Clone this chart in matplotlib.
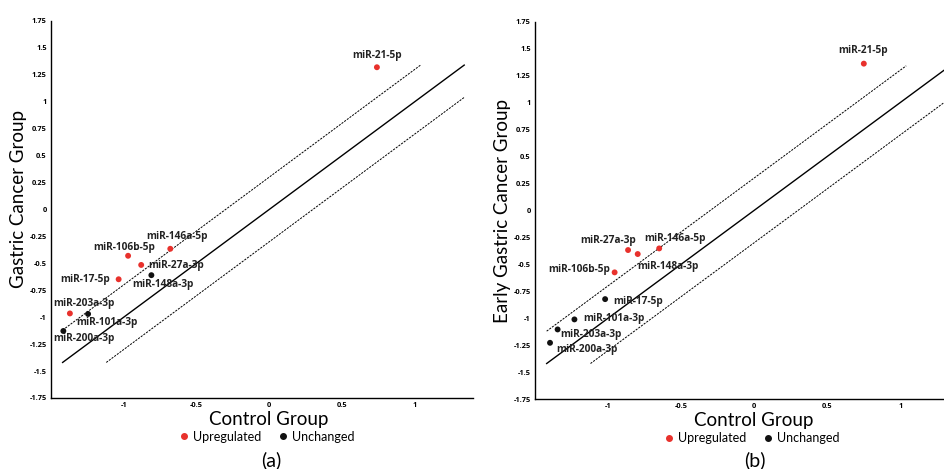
"""Scatter of miRNA expression: control vs (early) gastric cancer groups."""

import matplotlib
import matplotlib.pyplot as plt
import numpy as np
from matplotlib.lines import Line2D

matplotlib.use("Agg")

plt.rcParams["font.family"] = ["Lato", "DejaVu Sans"]
BOLD_FONT = ["Open Sans", "DejaVu Sans"]

RED = "#e8312c"
BLACK = "#111111"

# panel (a): control vs gastric cancer
MIR_A = ["miR-21-5p", "miR-146a-5p", "miR-106b-5p", "miR-27a-3p", "miR-148a-3p",
         "miR-17-5p", "miR-203a-3p", "miR-101a-3p", "miR-200a-3p"]
CTRL_A = [0.74, -0.68, -0.97, -0.88, -0.81, -1.035, -1.37, -1.245, -1.415]
GC_A = [1.32, -0.365, -0.43, -0.515, -0.61, -0.648, -0.965, -0.97, -1.128]
UP_A = [True, True, True, True, False, True, True, False, False]

# panel (b): control vs early gastric cancer
MIR_B = ["miR-21-5p", "miR-27a-3p", "miR-148a-3p", "miR-146a-5p", "miR-106b-5p",
         "miR-17-5p", "miR-101a-3p", "miR-203a-3p", "miR-200a-3p"]
CTRL_B = [0.75, -0.863, -0.797, -0.65, -0.955, -1.02, -1.23, -1.345, -1.397]
GC_B = [1.36, -0.368, -0.405, -0.353, -0.575, -0.823, -1.011, -1.104, -1.228]
UP_B = [True, True, True, True, True, False, False, False, False]

# identity line and +/- 0.3 band
REF_OFFSETS = [0.0, 0.3, -0.3]
REF_LO, REF_HI = -1.42, 1.34

# label placement: (dx px, dy px, ha)
LBL_A = {
    "miR-21-5p": (0, 12, "center"),
    "miR-146a-5p": (7, 12, "center"),
    "miR-106b-5p": (-4, 8, "center"),
    "miR-27a-3p": (7, -1, "left"),
    "miR-148a-3p": (12, -9, "center"),
    "miR-17-5p": (-9, 0, "right"),
    "miR-203a-3p": (14, 10, "center"),
    "miR-101a-3p": (19, -9, "center"),
    "miR-200a-3p": (21, -8, "center"),
}
LBL_B = {
    "miR-21-5p": (-1, 13, "center"),
    "miR-27a-3p": (-20, 10, "center"),
    "miR-146a-5p": (16, 10, "center"),
    "miR-148a-3p": (30, -12, "center"),
    "miR-106b-5p": (-4, 3, "right"),
    "miR-17-5p": (8, -2, "left"),
    "miR-101a-3p": (9, 1, "left"),
    "miR-203a-3p": (3, -5, "left"),
    "miR-200a-3p": (6, -7, "left"),
}

YTICKS = np.arange(-1.75, 1.76, 0.25)
XTICKS = [-1, -0.5, 0, 0.5, 1]


def _fmt(v):
    s = f"{v:g}"
    return "0" if s == "-0" else s


def draw_panel(ax, names, ctrl, gc, up, labels, ylabel, ylab_y):
    for d in REF_OFFSETS:
        x0, x1 = max(REF_LO, REF_LO - d), min(REF_HI, REF_HI - d)
        xs = np.array([x0, x1])
        if d == 0:
            ax.plot(xs, xs + d, color="black", lw=1.0)
        else:
            ax.plot(xs, xs + d, color="black", lw=0.7, ls=(0, (2.2, 1.2)))

    colors = [RED if u else BLACK for u in up]
    ax.scatter(ctrl, gc, s=18, c=colors, zorder=3, linewidths=0)

    for n, x, y in zip(names, ctrl, gc):
        dx, dy, ha = labels[n]
        ax.annotate(n, (x, y), xytext=(dx, dy), textcoords="offset pixels",
                    ha=ha, va="center", fontsize=7.3, fontweight="bold",
                    family=BOLD_FONT, color="#222222")

    ax.set_xlim(-1.5, 1.4)
    ax.set_ylim(-1.75, 1.75)
    ax.set_xticks(XTICKS)
    ax.set_xticklabels([_fmt(v) for v in XTICKS])
    ax.set_yticks(YTICKS)
    ax.set_yticklabels([_fmt(v) for v in YTICKS])
    ax.tick_params(length=0, labelsize=5.3, pad=3)
    for lbl in ax.get_xticklabels() + ax.get_yticklabels():
        lbl.set_fontweight("bold")
        lbl.set_family(BOLD_FONT)
    for s in ("top", "right"):
        ax.spines[s].set_visible(False)
    for s in ("left", "bottom"):
        ax.spines[s].set_linewidth(1.0)

    ax.set_xlabel("Control Group", fontsize=13.5)
    ax.xaxis.set_label_coords(0.516, -0.034)
    ax.set_ylabel(ylabel, fontsize=13.5)
    ax.yaxis.set_label_coords(-0.056, ylab_y)

    handles = [
        Line2D([], [], marker="o", ls="none", color=RED, markersize=4, label="Upregulated"),
        Line2D([], [], marker="o", ls="none", color=BLACK, markersize=4, label="Unchanged"),
    ]
    ax.legend(handles=handles, ncol=2, loc="center", bbox_to_anchor=(0.51, -0.103),
              frameon=False, fontsize=9, handletextpad=0.2, columnspacing=1.3,
              handlelength=1.0, borderaxespad=0, borderpad=0)


fig = plt.figure(figsize=(9.44, 4.69), dpi=100)
ax_a = fig.add_axes([0.054, 0.1514, 0.447, 0.804])
ax_b = fig.add_axes([0.5667, 0.149, 0.449, 0.805])

draw_panel(ax_a, MIR_A, CTRL_A, GC_A, UP_A, LBL_A, "Gastric Cancer Group", 0.528)
draw_panel(ax_b, MIR_B, CTRL_B, GC_B, UP_B, LBL_B, "Early Gastric Cancer Group", 0.498)

fig.text(0.287, 0.019, "(a)", ha="center", va="center", fontsize=14)
fig.text(0.80, 0.019, "(b)", ha="center", va="center", fontsize=14)

fig.savefig("out.png", dpi=100)
plt.close(fig)
